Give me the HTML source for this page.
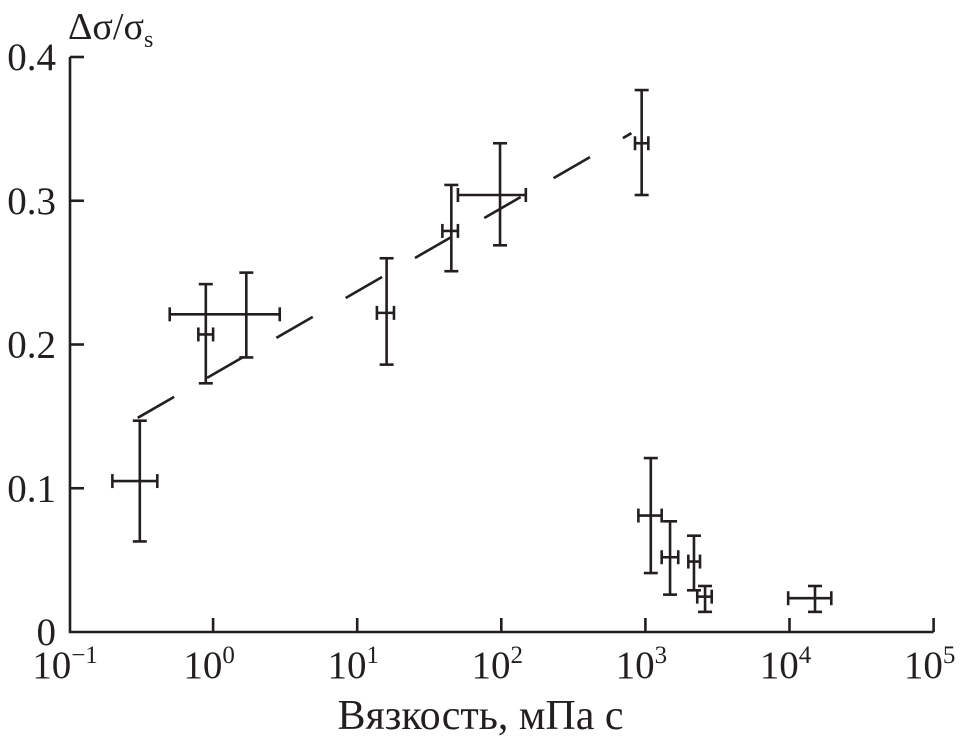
<!DOCTYPE html>
<html><head><meta charset="utf-8">
<style>
html,body{margin:0;padding:0;background:#fff;}
svg{display:block;font-family:"Liberation Serif",serif;}
</style></head>
<body>
<svg id="chart" width="961" height="745" viewBox="0 0 961 745">
<g id="axes" stroke="#231f20" stroke-width="2.6" fill="none"></g>
<g id="marks" stroke="#231f20" stroke-width="2.6" fill="none"></g>
<g id="labels" fill="#231f20"></g>
</svg>
<script>
const xTickExps = [-1, 0, 1, 2, 3, 4, 5];
const yTicks = [0, 0.1, 0.2, 0.3, 0.4];
const yTickLabels = ["0", "0.1", "0.2", "0.3", "0.4"];
const viscosity = [0.31, 0.89, 1.7, 16, 45, 98, 942, 1090, 1483, 2173, 2594, 15030];
const ratio = [0.105, 0.207, 0.221, 0.222, 0.279, 0.304, 0.340, 0.081, 0.052, 0.049, 0.0246, 0.0235];
const xLow = [0.2, 0.79, 0.5, 13.7, 39, 50, 847, 894, 1297, 1986, 2290, 9790];
const xHigh = [0.41, 1.0, 2.9, 18, 50, 148, 1048, 1297, 1690, 2393, 2885, 19500];
const yLow = [0.063, 0.173, 0.191, 0.186, 0.251, 0.269, 0.304, 0.041, 0.026, 0.029, 0.014, 0.014];
const yHigh = [0.147, 0.242, 0.250, 0.260, 0.311, 0.340, 0.377, 0.121, 0.077, 0.067, 0.032, 0.032];
const fitX = [0.3, 800];
const fitY = [0.149, 0.347];

const X0 = 69, DEC = 144.1, Y0 = 632, YU = 1437.5;
function sx(v){ return X0 + (Math.log10(v) + 1) * DEC; }
function sy(v){ return Y0 - v * YU; }
const NS = "http://www.w3.org/2000/svg";
function mk(tag, parent, attrs){ const e=document.createElementNS(NS,tag); for(const k in attrs) e.setAttribute(k, attrs[k]); parent.appendChild(e); return e; }
const axes = document.getElementById('axes'), marks = document.getElementById('marks'), labels = document.getElementById('labels');

let el = mk('path', axes, {d:`M70 ${sy(0.4)} L70 ${Y0} L${sx(1e5)} ${Y0}`});



yTicks.forEach((t,i)=>{
  const y = sy(t);
  if (t>0){ const tk = mk('line', axes, {x1:70, x2:84, y1:y, y2:y});
    
     }
  const tx = mk('text', labels, {x:56, y:y+13, 'font-size':39, 'text-anchor':'end'});
  tx.textContent = yTickLabels[i];
  
  
});
xTickExps.forEach(e=>{
  const x = sx(Math.pow(10,e));
  if (e>-1){ const tk = mk('line', axes, {x1:x, x2:x, y1:Y0, y2:Y0-14});
    
     }
  const tx = mk('text', labels, {x:x-4, y:678, 'font-size':39, 'text-anchor':'middle'});
  tx.textContent = '10';
  const sup = mk('tspan', tx, {dy:-15, 'font-size':25});
  sup.textContent = e<0 ? '\u2212' + Math.abs(e) : String(e);
  
  
});

const fit = mk('line', marks, {x1:sx(fitX[0]), y1:sy(fitY[0]), x2:sx(fitX[1]), y2:sy(fitY[1]), 'stroke-dasharray':'42 38'});



viscosity.forEach((v,i)=>{
  const g = mk('g', marks, {});
  
  
  const x = sx(v), y = sy(ratio[i]);
  const yl = sy(yLow[i]), yh = sy(yHigh[i]);
  mk('line', g, {x1:x, x2:x, y1:yl, y2:yh});
  mk('line', g, {x1:x-7, x2:x+7, y1:yl, y2:yl});
  mk('line', g, {x1:x-7, x2:x+7, y1:yh, y2:yh});
  const xl = sx(xLow[i]), xh = sx(xHigh[i]);
  mk('line', g, {x1:xl, x2:xh, y1:y, y2:y});
  mk('line', g, {x1:xl, x2:xl, y1:y-7, y2:y+7});
  mk('line', g, {x1:xh, x2:xh, y1:y-7, y2:y+7});
});
</script>
<div style="position:absolute;left:0;top:0;width:961px;height:745px;pointer-events:none;font-family:'Liberation Serif',serif;color:#231f20;">
  <div style="position:absolute;left:68px;top:6px;font-size:38px;line-height:42px;white-space:nowrap;">Δσ/σ<span style="font-size:24px;position:relative;top:8px;">s</span></div>
  <div style="position:absolute;left:0;width:961px;top:692px;text-align:center;font-size:42px;line-height:48px;">Вязкость, мПа с</div>
</div>
</body></html>
